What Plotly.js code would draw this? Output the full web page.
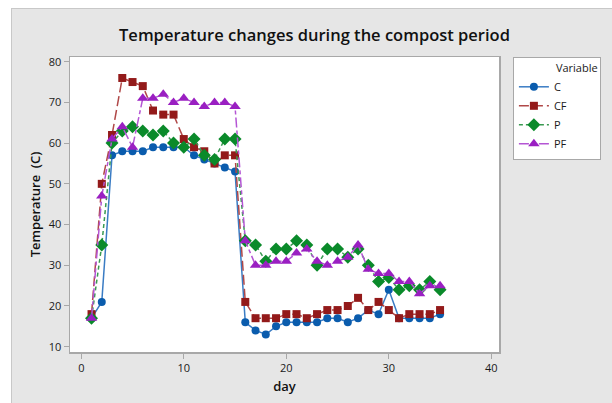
<!DOCTYPE html>
<html>
<head>
<meta charset="utf-8">
<script src="https://cdn.plot.ly/plotly-3.0.1.min.js"></script>
<style>
html,body{margin:0;padding:0;background:#ffffff;}
#wrap{position:absolute;left:11px;top:8px;width:601px;height:395px;border-top:1px solid #c8c8c8;border-left:1px solid #c8c8c8;box-sizing:border-box;background:#e6e6e6;}
#chart{position:absolute;left:-1px;top:-1px;width:601px;height:395px;}
</style>
</head>
<body>
<div id="wrap"><div id="chart"></div></div>
<script>
const days = [1,2,3,4,5,6,7,8,9,10,11,12,13,14,15,16,17,18,19,20,21,22,23,24,25,26,27,28,29,30,31,32,33,34,35];
const C  = [17,21,57,58,58,58,59,59,59,59,57,56,55,54,53,16,14,13,15,16,16,16,16,17,17,16,17,19,18,24,17,17,17,17,18];
const CF = [18,50,62,76,75,74,68,67,67,61,59,58,55,57,57,21,17,17,17,18,18,17,18,19,19,20,22,19,21,19,17,18,18,18,19];
const P  = [17,35,60,63,64,63,62,63,60,59,61,57,56,61,61,36,35,31,34,34,36,35,30,34,34,32,34,30,26,27,24,25,24,26,24];
const PF = [17,47,61,64,59,71,71,72,70,71,70,69,70,70,69,36,30,30,31,31,33,34,31,30,31,32,35,29,28,28,26,26,23,25,25];
const names = ["C","CF","P","PF"];
const xTicks = [0,10,20,30,40];
const yTicks = [10,20,30,40,50,60,70,80];

const FONT = "Open Sans, Noto Sans, sans-serif";
const traces = [
  {x:days,y:C,name:names[0],mode:"lines+markers",
   line:{color:"#3a7cc4",width:1.5,dash:"solid"},
   marker:{symbol:"circle",size:8,color:"#0a5cad"}},
  {x:days,y:CF,name:names[1],mode:"lines+markers",
   line:{color:"#b04848",width:1.5,dash:"10px,4px"},
   marker:{symbol:"square",size:8,color:"#931a1a"}},
  {x:days,y:P,name:names[2],mode:"lines+markers",
   line:{color:"#3a9a52",width:1.5,dash:"4px,3px"},
   marker:{symbol:"diamond",size:10,color:"#0a8a2a"}},
  {x:days,y:PF,name:names[3],mode:"lines+markers",
   line:{color:"#b455d4",width:1.5,dash:"10px,3px,4px,3px"},
   marker:{symbol:"triangle-up",size:10,color:"#9a1fc2"}}
];

const pad = "&nbsp;".repeat(14);
const layout = {
  width:601, height:395,
  paper_bgcolor:"rgba(0,0,0,0)", plot_bgcolor:"#ffffff",
  margin:{l:59,r:112,t:49,b:51,pad:0},
  font:{family:FONT,size:11,color:"#1a1a1a"},
  title:{text:"Temperature changes during the compost period",
         font:{family:FONT,size:16.5,color:"#111111",weight:600},
         x:0.505, xanchor:"center", xref:"container", y:0.93, yanchor:"middle"},
  xaxis:{range:[-1.1,40.75],tickvals:xTicks,ticktext:xTicks.map(String),
         showgrid:false,zeroline:false,showline:true,mirror:true,
         linecolor:"#a8a8a8",linewidth:1.5,
         ticks:"outside",ticklen:5,tickcolor:"#a8a8a8",tickwidth:1,
         tickfont:{family:FONT,size:11,color:"#1a1a1a"},
         title:{text:"day",font:{family:FONT,size:13,color:"#111111",weight:600},standoff:8}},
  yaxis:{range:[8.7,81.15],tickvals:yTicks,ticktext:yTicks.map(String),
         showgrid:false,zeroline:false,showline:true,mirror:true,
         linecolor:"#a8a8a8",linewidth:1.5,
         ticks:"outside",ticklen:5,tickcolor:"#a8a8a8",tickwidth:1,
         tickfont:{family:FONT,size:11,color:"#1a1a1a"},
         title:{text:"Temperature  (C)",font:{family:FONT,size:13,color:"#111111",weight:600},standoff:5}},
  legend:{x:1.03,xanchor:"left",y:1,yanchor:"top",
          bgcolor:"#ffffff",bordercolor:"#a8a8a8",borderwidth:1,
          font:{family:FONT,size:11,color:"#1a1a1a"},
          title:{text:pad+"Variable",side:"top",font:{family:FONT,size:11,color:"#1a1a1a"}},
          tracegroupgap:0,itemwidth:30},
  showlegend:true
};
Plotly.newPlot("chart",traces,layout,{displayModeBar:false,staticPlot:true});
</script>
</body>
</html>
